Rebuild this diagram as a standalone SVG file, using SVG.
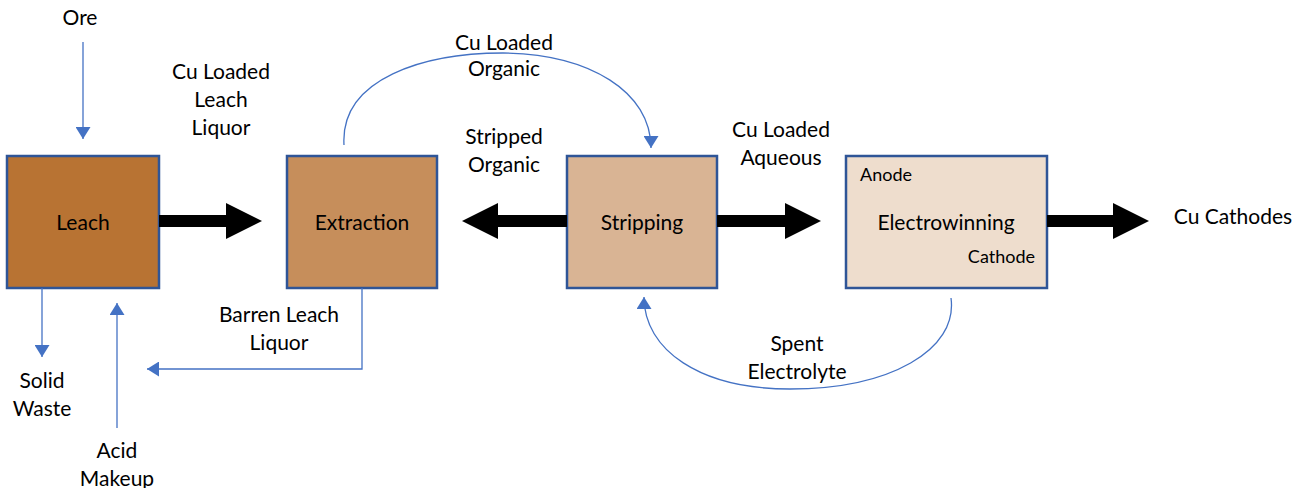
<svg xmlns="http://www.w3.org/2000/svg" width="1296" height="488" viewBox="0 0 1296 488">
<defs>
<style>
text{font-family:Lato,"Liberation Sans",sans-serif;font-size:21px;fill:#000;text-anchor:middle}
.sm{font-size:18px}
.box{stroke:#2F5597;stroke-width:2.5}
.ln{fill:none;stroke:#4472C4;stroke-width:1.3}
.big{fill:#000}
</style>
<marker id="ah" markerWidth="12" markerHeight="15" refX="12" refY="7.5" orient="auto" markerUnits="userSpaceOnUse">
<path d="M0,0 L12,7.5 L0,15 Z" fill="#4472C4"/>
</marker>
</defs>
<rect width="1296" height="488" fill="#fff"/>
<g id="leach">
<rect class="box" x="7" y="156" width="152" height="132" fill="#B87333"/>
<text x="83" y="230">Leach</text>
</g>
<g id="extraction">
<rect class="box" x="287" y="156" width="150" height="132" fill="#C68E5B"/>
<text x="362" y="230">Extraction</text>
</g>
<g id="stripping">
<rect class="box" x="567" y="156" width="150" height="132" fill="#D9B494"/>
<text x="642" y="230">Stripping</text>
</g>
<g id="electrowinning">
<rect class="box" x="846" y="156" width="201" height="132" fill="#EEDDCD"/>
<text x="946" y="230">Electrowinning</text>
<text class="sm" x="860" y="181" style="text-anchor:start">Anode</text>
<text class="sm" x="1035" y="263" style="text-anchor:end">Cathode</text>
</g>
<g id="connectors">
<path class="big" d="M159,215 L226,215 L226,203 L262,221 L226,239 L226,227 L159,227 Z"/>
<path class="big" d="M567,215 L498,215 L498,203 L462,221 L498,239 L498,227 L567,227 Z"/>
<path class="big" d="M717,215 L785,215 L785,203 L821,221 L785,239 L785,227 L717,227 Z"/>
<path class="big" d="M1047,215 L1113,215 L1113,203 L1149,221 L1113,239 L1113,227 L1047,227 Z"/>
<path class="ln" d="M83,42 L83,139" marker-end="url(#ah)"/>
<path class="ln" d="M42,288 L42,357" marker-end="url(#ah)"/>
<path class="ln" d="M117,428 L117,303" marker-end="url(#ah)"/>
<path class="ln" d="M362,288 L362,369 L147,369" marker-end="url(#ah)"/>
<path class="ln" d="M344,145 C340,78 425,53 503,53 C590,54 651,92 651,148" marker-end="url(#ah)"/>
<path class="ln" d="M951,298 C958,350 890,389 790,389 C700,389 644,350 644,297" marker-end="url(#ah)"/>
</g>
<g id="labels">
<text x="80" y="25">Ore</text>
<text x="221" y="79">Cu Loaded</text>
<text x="221" y="107">Leach</text>
<text x="221" y="135">Liquor</text>
<text x="504" y="50">Cu Loaded</text>
<text x="504" y="76">Organic</text>
<text x="504" y="144">Stripped</text>
<text x="504" y="172">Organic</text>
<text x="781" y="137">Cu Loaded</text>
<text x="781" y="165">Aqueous</text>
<text x="1233" y="224">Cu Cathodes</text>
<text x="279" y="322">Barren Leach</text>
<text x="279" y="350">Liquor</text>
<text x="42" y="388">Solid</text>
<text x="42" y="416">Waste</text>
<text x="117" y="458">Acid</text>
<text x="117" y="486">Makeup</text>
<text x="797" y="351">Spent</text>
<text x="797" y="379">Electrolyte</text>
</g>
</svg>
